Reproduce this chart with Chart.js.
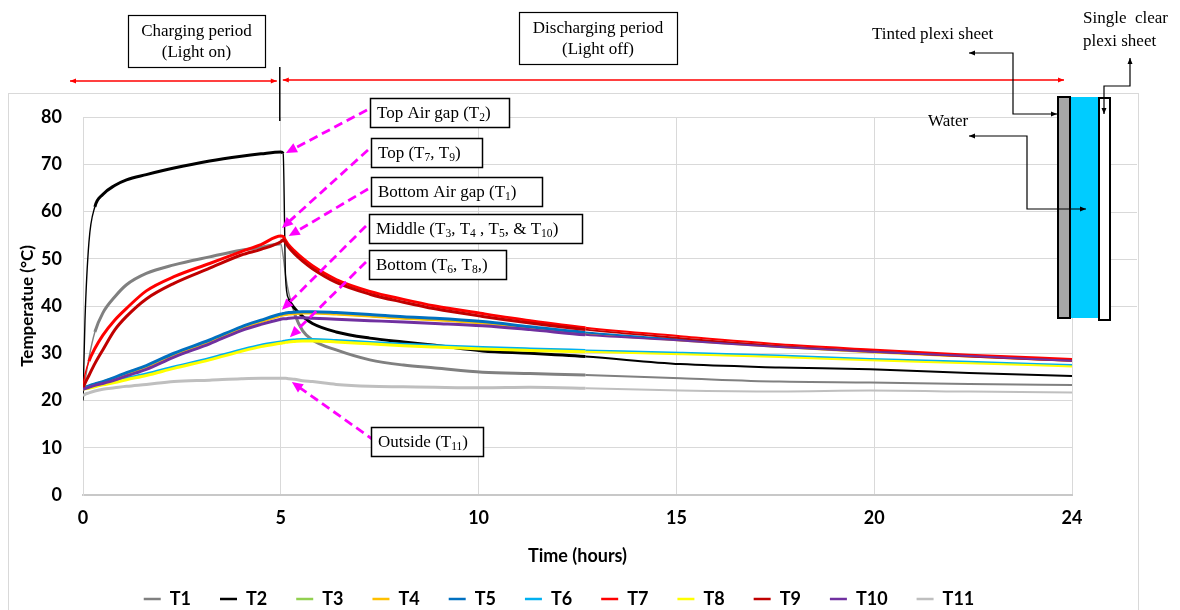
<!DOCTYPE html>
<html>
<head>
<meta charset="utf-8">
<script src="https://cdn.jsdelivr.net/npm/chart.js@4.4.1/dist/chart.umd.min.js"></script>
<style>
  html, body { margin: 0; padding: 0; background: #fff; overflow: hidden; }
  canvas { display: block; }
</style>
</head>
<body>
<canvas id="tempChart" width="1180" height="620"></canvas>
<script>
// time axis positions (last grid step is labelled 24)
const hours = [0, 0.05, 0.15, 0.3, 0.5, 0.8, 1.1, 1.6, 2.3, 3.2, 4.0, 4.5, 5.0, 5.06, 5.12, 5.2, 5.35, 5.55, 5.8, 6.4, 7.25, 8.1, 8.9, 10.1, 11.3, 12.7, 15.1, 17.6, 19.9, 22.4, 25];
const xTickLabels = ['0', '5', '10', '15', '20', '24'];
const seriesNames = ['T1', 'T2', 'T3', 'T4', 'T5', 'T6', 'T7', 'T8', 'T9', 'T10', 'T11'];

const t1  = [21.5, 24, 29, 34.5, 38.5, 41.9, 44.5, 46.9, 48.7, 50.4, 51.8, 52.4, 53.2, 50.5, 46.5, 42.8, 38.3, 34.8, 32.8, 30.7, 28.6, 27.5, 26.9, 26.0, 25.7, 25.4, 24.7, 24.0, 23.8, 23.5, 23.3];
const t2  = [20, 37, 53.5, 61, 63.6, 65.5, 66.7, 67.8, 69.2, 70.7, 71.7, 72.2, 72.6, 72.3, 46, 41.5, 39.5, 37.8, 36.3, 34.5, 33.2, 32.4, 31.7, 30.5, 30.0, 29.3, 27.7, 27.0, 26.6, 25.8, 25.2];
const t3  = [22.5, 22.7, 23, 23.4, 23.9, 24.7, 25.6, 27.1, 29.8, 32.6, 35.4, 36.8, 38.1, 38.2, 38.3, 38.4, 38.5, 38.6, 38.6, 38.4, 38, 37.5, 37.2, 36.5, 35.4, 34.2, 32.8, 31.4, 30.3, 29.4, 28.5];
const t4  = [22.5, 22.7, 23, 23.3, 23.8, 24.6, 25.5, 27, 29.7, 32.5, 35.3, 36.7, 38, 38.1, 38.2, 38.3, 38.4, 38.5, 38.5, 38.3, 37.9, 37.4, 37.1, 36.4, 35.3, 34.1, 32.7, 31.3, 30.2, 29.3, 28.4];
const t5  = [22.6, 22.8, 23.1, 23.5, 24, 24.9, 25.9, 27.4, 30, 32.8, 35.6, 37, 38.3, 38.4, 38.5, 38.6, 38.7, 38.8, 38.8, 38.6, 38.2, 37.7, 37.4, 36.7, 35.6, 34.4, 32.9, 31.5, 30.4, 29.5, 28.6];
const t6  = [22.5, 22.6, 22.8, 23.1, 23.5, 24.1, 24.7, 25.6, 27.1, 28.9, 30.7, 31.7, 32.4, 32.5, 32.6, 32.7, 32.8, 32.9, 32.9, 32.7, 32.3, 31.9, 31.6, 31.2, 30.9, 30.6, 30.1, 29.5, 28.8, 28.2, 27.5];
const t7  = [23, 25.5, 28.3, 31, 33.8, 37, 39.5, 43.2, 46.2, 49, 51.5, 53, 54.8, 54.7, 53.9, 52.9, 51.6, 50.1, 48.5, 45.6, 43.1, 41.4, 40.0, 38.4, 36.9, 35.4, 33.6, 31.9, 30.8, 29.7, 28.8];
const t8  = [22.4, 22.5, 22.6, 22.9, 23.3, 23.8, 24.4, 25.3, 26.8, 28.6, 30.4, 31.4, 32.1, 32.2, 32.3, 32.4, 32.5, 32.6, 32.6, 32.4, 32.0, 31.6, 31.3, 30.9, 30.6, 30.3, 29.8, 29.2, 28.5, 27.9, 27.2];
const t9  = [22.5, 23.6, 25.3, 27.8, 30.7, 34.9, 37.8, 41.5, 44.8, 48, 50.8, 52, 53.6, 54, 53.4, 52.4, 51, 49.5, 47.9, 45, 42.5, 40.8, 39.4, 37.8, 36.4, 35, 33.2, 31.5, 30.4, 29.3, 28.4];
const t10 = [22.4, 22.5, 22.8, 23.2, 23.6, 24.3, 25.2, 26.6, 29.2, 32, 34.8, 36.1, 37.2, 37.3, 37.3, 37.4, 37.5, 37.5, 37.4, 37.2, 36.9, 36.6, 36.3, 35.8, 35, 33.9, 32.7, 31.3, 30.3, 29.4, 28.4];
const t11 = [21, 21.3, 21.6, 22, 22.4, 22.7, 23, 23.4, 24, 24.3, 24.6, 24.7, 24.7, 24.7, 24.7, 24.6, 24.5, 24.2, 24, 23.4, 23, 22.9, 22.8, 22.7, 22.8, 22.6, 22.1, 21.9, 22.1, 21.9, 21.7];

const seriesValues = [t1, t2, t3, t4, t5, t6, t7, t8, t9, t10, t11];
const seriesColors = ['#808080', '#000000', '#92d050', '#ffc000', '#0070c0', '#00b0f0', '#ff0000', '#ffff00', '#c00000', '#7030a0', '#bfbfbf'];

// logger switched to a slower, smoother rate here
const loggerChange = 12.7;

const SERIF = '"Liberation Serif", "Times New Roman", serif';

// callout boxes: [left, top, width, height], text parts (arrays are subscripts), arrow tip (hours, °C)
const callouts = [
  { box: [370, 98, 139, 29],  parts: ['Top Air gap (T', ['2'], ')'], tip: [5.13, 72.4] },
  { box: [371, 138, 111, 29], parts: ['Top (T', ['7'], ', T', ['9'], ')'], tip: [5.03, 56.5] },
  { box: [371, 177, 171, 29], parts: ['Bottom Air gap (T', ['1'], ')'], tip: [5.2, 54.8] },
  { box: [369, 214, 213, 29], parts: ['Middle (T', ['3'], ', T', ['4'], ' , T', ['5'], ', & T', ['10'], ')'], tip: [5.03, 39.2] },
  { box: [369, 250, 137, 29], parts: ['Bottom (T', ['6'], ', T', ['8'], ',)'], tip: [5.23, 33.4] },
  { box: [371, 427, 112, 29], parts: ['Outside (T', ['11'], ')'], tip: [5.28, 23.9], inside: true }
];

function head(ctx, x0, y0, x1, y1, len, half) {
  const a = Math.atan2(y1 - y0, x1 - x0);
  const c = Math.cos(a), s = Math.sin(a);
  ctx.beginPath();
  ctx.moveTo(x1, y1);
  ctx.lineTo(x1 - len * c + half * s, y1 - len * s - half * c);
  ctx.lineTo(x1 - len * c - half * s, y1 - len * s + half * c);
  ctx.closePath();
  ctx.fill();
}

function richText(ctx, parts, x, y, size) {
  ctx.textAlign = 'left';
  ctx.textBaseline = 'middle';
  parts.forEach(p => {
    const sub = typeof p !== 'string';
    const t = sub ? p[0] : p;
    ctx.font = (sub ? size * 0.68 : size) + 'px ' + SERIF;
    ctx.fillText(t, x, sub ? y + size * 0.28 : y);
    x += ctx.measureText(t).width;
  });
}

function elbow(ctx, pts) {
  ctx.beginPath();
  ctx.moveTo(pts[0][0], pts[0][1]);
  for (let i = 1; i < pts.length; i++) ctx.lineTo(pts[i][0], pts[i][1]);
  ctx.stroke();
  const n = pts.length;
  head(ctx, pts[1][0], pts[1][1], pts[0][0], pts[0][1], 6, 2.5);
  head(ctx, pts[n - 2][0], pts[n - 2][1], pts[n - 1][0], pts[n - 1][1], 6, 2.5);
}

const framePlugin = {
  id: 'frame',
  afterLayout(chart) {
    // nudge the legend row to the right
    chart.legend.left += 19;
    chart.legend.right += 19;
  },
  beforeDraw(chart) {
    const ctx = chart.ctx;
    ctx.save();
    ctx.fillStyle = '#fff';
    ctx.fillRect(0, 0, chart.width, chart.height);
    ctx.strokeStyle = '#d9d9d9';
    ctx.lineWidth = 1;
    ctx.strokeRect(8.5, 93.5, 1130, 560);
    // grid continues behind the wall sketch
    const ys = chart.scales.y;
    [40, 50, 60, 70].forEach(v => {
      const y = Math.round(ys.getPixelForValue(v)) + 0.5;
      ctx.beginPath();
      ctx.moveTo(chart.chartArea.right, y);
      ctx.lineTo(1137, y);
      ctx.stroke();
    });
    ctx.restore();
  }
};

const notesPlugin = {
  id: 'notes',
  afterDraw(chart) {
    const ctx = chart.ctx;
    const xs = chart.scales.x, ys = chart.scales.y;
    ctx.save();

    // period boxes
    ctx.strokeStyle = '#000';
    ctx.lineWidth = 1.2;
    ctx.fillStyle = '#000';
    ctx.font = '17px ' + SERIF;
    ctx.textAlign = 'center';
    ctx.textBaseline = 'middle';
    [[128, 15, 137, 52, 'Charging period', '(Light on)'],
     [519, 12, 158, 52, 'Discharging period', '(Light off)']].forEach(b => {
      ctx.strokeRect(b[0] + 0.5, b[1] + 0.5, b[2], b[3]);
      ctx.fillText(b[4], b[0] + b[2] / 2, b[1] + 17);
      ctx.fillText(b[5], b[0] + b[2] / 2, b[1] + 38);
    });

    // light on / off markers
    const x5 = xs.getPixelForValue(5) - 1;
    ctx.strokeStyle = '#ff0000';
    ctx.fillStyle = '#ff0000';
    ctx.lineWidth = 1.3;
    [[70, x5 - 3, 81], [x5 + 3, 1064, 80]].forEach(a => {
      ctx.beginPath();
      ctx.moveTo(a[0], a[2]);
      ctx.lineTo(a[1], a[2]);
      ctx.stroke();
      head(ctx, a[1], a[2], a[0], a[2], 6, 2.5);
      head(ctx, a[0], a[2], a[1], a[2], 6, 2.5);
    });
    ctx.strokeStyle = '#000';
    ctx.lineWidth = 1.5;
    ctx.beginPath();
    ctx.moveTo(x5, 67);
    ctx.lineTo(x5, 121);
    ctx.stroke();

    // callouts with dashed magenta arrows
    callouts.forEach(c => {
      const [bx, by, bw, bh] = c.box;
      const tx = xs.getPixelForValue(c.tip[0]);
      const ty = ys.getPixelForValue(c.tip[1]);
      const sx = c.inside ? bx + 4 : bx - 3;
      const sy = by + (c.inside ? 14 : 12);
      const a = Math.atan2(ty - sy, tx - sx);
      ctx.strokeStyle = '#ff00ff';
      ctx.fillStyle = '#ff00ff';
      ctx.lineWidth = 2.8;
      ctx.setLineDash([9, 5]);
      ctx.beginPath();
      ctx.moveTo(sx, sy);
      ctx.lineTo(tx - 9 * Math.cos(a), ty - 9 * Math.sin(a));
      ctx.stroke();
      ctx.setLineDash([]);
      head(ctx, sx, sy, tx, ty, 11, 5);

      ctx.fillStyle = '#fff';
      ctx.fillRect(bx, by, bw, bh);
      ctx.strokeStyle = '#000';
      ctx.lineWidth = 1.5;
      ctx.strokeRect(bx + 0.5, by + 0.5, bw, bh);
      ctx.fillStyle = '#000';
      richText(ctx, c.parts, bx + 7, by + bh / 2 + 1, 17);
    });

    // wall section sketch
    ctx.lineWidth = 2;
    ctx.strokeStyle = '#000';
    ctx.fillStyle = '#00ccff';
    ctx.fillRect(1070, 97, 29, 221);
    ctx.fillStyle = '#a6a6a6';
    ctx.fillRect(1058, 97, 12, 221);
    ctx.strokeRect(1058, 97, 12, 221);
    ctx.fillStyle = '#fff';
    ctx.fillRect(1099, 98, 11, 222);
    ctx.strokeRect(1099, 98, 11, 222);

    ctx.fillStyle = '#000';
    ctx.font = '17px ' + SERIF;
    ctx.textAlign = 'left';
    ctx.textBaseline = 'middle';
    ctx.fillText('Tinted plexi sheet', 872, 35);
    ctx.fillText('Single  clear', 1083, 19);
    ctx.fillText('plexi sheet', 1083, 42);
    ctx.fillText('Water', 928, 122);

    ctx.lineWidth = 1.2;
    elbow(ctx, [[969, 53], [1013, 53], [1013, 114], [1057, 114]]);
    elbow(ctx, [[969, 136], [1027, 136], [1027, 209], [1086, 209]]);
    elbow(ctx, [[1130, 58], [1130, 86], [1104, 86], [1104, 114]]);

    ctx.restore();
  }
};

window.onload = function() {
    const canvas = document.getElementById('tempChart');
    if (!canvas) return;

    const ctx = canvas.getContext('2d');

    Chart.defaults.font.family = 'Lato, "Open Sans", sans-serif';
    Chart.defaults.color = '#000';

    const datasets = seriesNames.map((name, i) => ({
        label: name,
        data: hours.map((h, k) => ({ x: h, y: seriesValues[i][k] })),
        borderColor: seriesColors[i],
        backgroundColor: seriesColors[i],
        borderWidth: 2.5,
        pointRadius: 0,
        cubicInterpolationMode: 'monotone',
        order: seriesNames.length - i,
        segment: {
            // noisy logging reads as a thick trace, steep parts stay thin
            borderWidth: c => {
                const dx = Math.abs(c.p1.x - c.p0.x), dy = Math.abs(c.p1.y - c.p0.y);
                if (dy > 3 * dx) return 1.4;
                return hours[c.p0DataIndex] < loggerChange ? 3 : 2;
            }
        }
    }));

    new Chart(ctx, {
        type: 'line',
        data: { datasets },
        options: {
            responsive: false,
            animation: false,
            layout: { padding: { top: 117, left: 8, right: 108, bottom: 2 } },
            plugins: {
                tooltip: { enabled: false },
                legend: {
                    position: 'bottom',
                    labels: {
                        usePointStyle: true,
                        pointStyle: 'line',
                        pointStyleWidth: 17,
                        padding: 29,
                        color: '#000',
                        font: { size: 18, weight: 'bold' },
                        sort: (a, b) => a.datasetIndex - b.datasetIndex
                    }
                }
            },
            scales: {
                x: {
                    type: 'linear',
                    min: 0,
                    max: 25,
                    ticks: {
                        stepSize: 5,
                        padding: 12,
                        maxRotation: 0,
                        font: { size: 18, weight: 'bold' },
                        callback: (v, i) => xTickLabels[i]
                    },
                    grid: { color: '#d9d9d9', drawTicks: false },
                    border: { color: '#c8c8c8', width: 2 },
                    title: {
                        display: true,
                        text: 'Time (hours)',
                        font: { size: 18, weight: 'bold' },
                        padding: { top: 0, bottom: -6 }
                    },
                    afterFit: s => { s.height = 66; }
                },
                y: {
                    min: 0,
                    max: 80,
                    ticks: { stepSize: 10, padding: 21, font: { size: 18, weight: 'bold' } },
                    grid: { color: '#d9d9d9', drawTicks: false },
                    border: { color: '#d9d9d9' },
                    title: {
                        display: true,
                        text: 'Temperatue (°C)',
                        font: { size: 17, weight: 'bold' },
                        padding: { top: 9, bottom: 0 }
                    },
                    afterFit: s => { s.width = 75; }
                }
            }
        },
        plugins: [framePlugin, notesPlugin]
    });
};
</script>
</body>
</html>
